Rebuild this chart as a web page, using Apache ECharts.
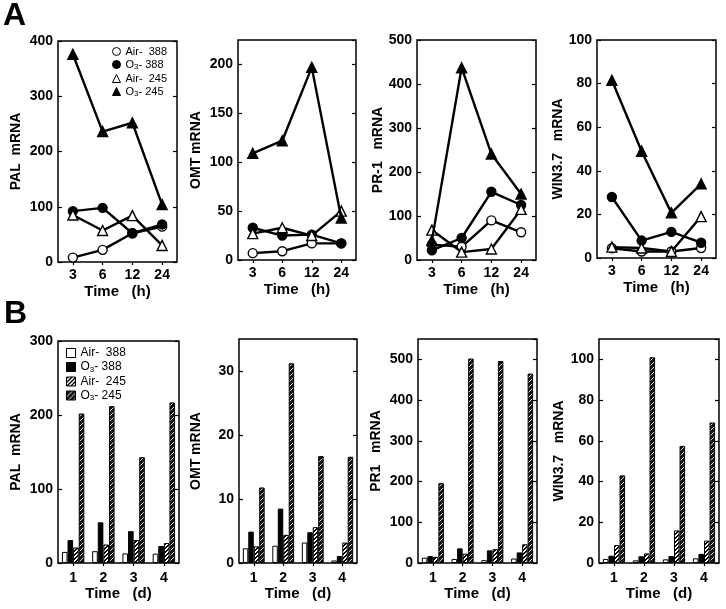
<!DOCTYPE html>
<html><head><meta charset="utf-8">
<script src="https://cdn.jsdelivr.net/npm/echarts@6/dist/echarts.min.js"></script>
<style>html,body{margin:0;padding:0;background:#fff}#c{width:726px;height:609px}</style>
</head><body><div id="c"></div>
<script>
// ---------- DATA ----------
const seriesNames = ['Air-  388', 'O₃- 388', 'Air-  245', 'O₃- 245'];
const hourCats = ['3', '6', '12', '24'];
const dayCats = ['1', '2', '3', '4'];

// Panel A (time in hours) – line charts
const A_PAL_air388 = [8, 22, 52, 64];
const A_PAL_o3388 = [92, 98, 52, 68];
const A_PAL_air245 = [85, 57, 84, 30];
const A_PAL_o3245 = [376, 236, 252, 104];

const A_OMT_air388 = [7, 9, 17, 17];
const A_OMT_o3388 = [33, 25, 26, 17];
const A_OMT_air245 = [27, 33, 25, 50];
const A_OMT_o3245 = [109, 122, 197, 43];

const A_PR1_air388 = [35, 30, 90, 63];
const A_PR1_o3388 = [22, 50, 155, 125];
const A_PR1_air245 = [68, 18, 25, 115];
const A_PR1_o3245 = [44, 437, 241, 150];

const A_WIN_air388 = [4.5, 3, 3, 4.6];
const A_WIN_o3388 = [28, 8, 12, 7];
const A_WIN_air245 = [5, 4.6, 3, 19];
const A_WIN_o3245 = [81.5, 49, 20.7, 34];

// Panel B (time in days) – bar charts
const B_PAL_air388 = [15, 16, 13, 12.6];
const B_PAL_o3388 = [31, 55, 43, 23];
const B_PAL_air245 = [21, 25, 31, 27];
const B_PAL_o3245 = [202, 212, 143, 217];

const B_OMT_air388 = [2.3, 2.7, 3.2, 0.4];
const B_OMT_o3388 = [4.9, 8.5, 4.8, 1.1];
const B_OMT_air245 = [2.6, 4.4, 5.6, 3.2];
const B_OMT_o3245 = [11.8, 31.2, 16.7, 16.6];

const B_PR1_air388 = [13, 10, 7, 11];
const B_PR1_o3388 = [17, 36, 31, 26];
const B_PR1_air245 = [15, 23, 34, 46];
const B_PR1_o3245 = [196, 502, 496, 465];

const B_WIN_air388 = [2, 1.3, 1.8, 2.3];
const B_WIN_o3388 = [3.6, 3.3, 3.4, 4.5];
const B_WIN_air245 = [8.8, 4.7, 16, 11];
const B_WIN_o3245 = [43, 101, 57.5, 69];

// Axis ranges
const A_yMax = [400, 225, 500, 100];
const A_yStep = [100, 50, 100, 20];
const B_yMax = [300, 35, 550, 110];
const B_yStep = [100, 10, 100, 20];
const A_yNames = ['PAL  mRNA', 'OMT mRNA', 'PR-1   mRNA', 'WIN3.7   mRNA'];
const B_yNames = ['PAL  mRNA', 'OMT mRNA', 'PR1   mRNA', 'WIN3.7   mRNA'];
const A_xName = 'Time   (h)';
const B_xName = 'Time   (d)';

// ---------- LAYOUT / STYLE ----------
const FONT = 'Liberation Sans';
const gridsA = [[58, 41, 119, 221], [238, 40, 118, 220], [417, 40, 119, 220], [597, 40, 119, 218]];
const gridsB = [[58, 341, 121, 222], [239, 339, 118, 224], [418, 339, 119, 224], [599, 339, 120, 224]];
const nameGapA = [35, 35, 32, 31];
const nameGapB = [35, 36, 35, 33];

function stripes(bg, fg, period, w) {
  const c = document.createElement('canvas');
  c.width = c.height = period;
  const ctx = c.getContext('2d');
  ctx.fillStyle = bg; ctx.fillRect(0, 0, period, period);
  ctx.fillStyle = fg;
  for (let y = 0; y < period; y++) for (let x = 0; x < period; x++) {
    if (((x + y) % period) < w) ctx.fillRect(x, y, 1, 1);
  }
  return { image: c, repeat: 'repeat' };
}
const patHatch = stripes('#ffffff', '#000000', 4, 2);
const patDark = stripes('#151515', '#d8d8d8', 5, 1);

const lineStyles = [
  { symbol: 'circle', size: 9, fill: '#fff' },
  { symbol: 'circle', size: 9, fill: '#000' },
  { symbol: 'triangle', size: 10, fill: '#fff' },
  { symbol: 'triangle', size: 10, fill: '#000' }
];
const barFills = ['#ffffff', '#000000', patHatch, patDark];

const A_data = [
  [A_PAL_air388, A_PAL_o3388, A_PAL_air245, A_PAL_o3245],
  [A_OMT_air388, A_OMT_o3388, A_OMT_air245, A_OMT_o3245],
  [A_PR1_air388, A_PR1_o3388, A_PR1_air245, A_PR1_o3245],
  [A_WIN_air388, A_WIN_o3388, A_WIN_air245, A_WIN_o3245]
];
const B_data = [
  [B_PAL_air388, B_PAL_o3388, B_PAL_air245, B_PAL_o3245],
  [B_OMT_air388, B_OMT_o3388, B_OMT_air245, B_OMT_o3245],
  [B_PR1_air388, B_PR1_o3388, B_PR1_air245, B_PR1_o3245],
  [B_WIN_air388, B_WIN_o3388, B_WIN_air245, B_WIN_o3245]
];

const grid = [], xAxis = [], yAxis = [], series = [];
function addPanel(g, cats, yMax, yStep, yName, nameGap, xName, xNameGap, labelMargin) {
  const gi = grid.length;
  grid.push({ left: g[0], top: g[1], width: g[2], height: g[3], show: true,
    borderColor: '#000', borderWidth: 1.5, backgroundColor: 'transparent' });
  xAxis.push({ type: 'category', gridIndex: gi, data: cats, boundaryGap: true,
    axisLine: { show: false },
    axisTick: { show: true, alignWithLabel: true, length: 3, lineStyle: { color: '#000', width: 1.2 } },
    axisLabel: { margin: labelMargin, color: '#000', fontFamily: FONT, fontWeight: 'bold', fontSize: 14 },
    name: xName, nameLocation: 'middle', nameGap: xNameGap,
    nameTextStyle: { color: '#000', fontFamily: FONT, fontWeight: 'bold', fontSize: 15 } });
  const showMax = (yMax % yStep) === 0;
  yAxis.push({ type: 'value', gridIndex: gi, min: 0, max: yMax, interval: yStep,
    axisLine: { show: false }, splitLine: { show: false },
    axisTick: { show: true, inside: true, length: 4, lineStyle: { color: '#000', width: 1.2 } },
    axisLabel: { margin: 5, color: '#000', fontFamily: FONT, fontWeight: 'bold', fontSize: 14, showMaxLabel: showMax },
    name: yName, nameLocation: 'middle', nameGap: nameGap, nameRotate: 90,
    nameTextStyle: { color: '#000', fontFamily: FONT, fontWeight: 'bold', fontSize: 14 } });
  yAxis.push({ type: 'value', gridIndex: gi, position: 'right', min: 0, max: yMax, interval: yStep,
    axisLine: { show: false }, splitLine: { show: false },
    axisTick: { show: true, inside: true, length: 4, lineStyle: { color: '#000', width: 1.2 } },
    axisLabel: { show: false } });
  return gi;
}

for (let p = 0; p < 4; p++) {
  const gi = addPanel(gridsA[p], hourCats, A_yMax[p], A_yStep[p], A_yNames[p], nameGapA[p], A_xName, 22, 6);
  for (let s = 0; s < 4; s++) {
    const st = lineStyles[s];
    series.push({ type: 'line', name: seriesNames[s], xAxisIndex: gi, yAxisIndex: gi * 2,
      data: A_data[p][s], symbol: st.symbol, symbolSize: st.size, showSymbol: true,
      lineStyle: { color: '#000', width: 2.4 },
      itemStyle: { color: st.fill, borderColor: '#000', borderWidth: 1.4 },
      z: 2 + s });
  }
}
for (let p = 0; p < 4; p++) {
  const gi = addPanel(gridsB[p], dayCats, B_yMax[p], B_yStep[p], B_yNames[p], nameGapB[p], B_xName, 14, 8);
  for (let s = 0; s < 4; s++) {
    series.push({ type: 'bar', name: 'B·' + seriesNames[s], xAxisIndex: gi, yAxisIndex: gi * 2,
      data: B_data[p][s], barGap: '0%', barCategoryGap: '26%',
      itemStyle: { color: barFills[s], borderColor: '#000', borderWidth: 1 } });
  }
}

const richSub = { s: { fontSize: 8, fontFamily: FONT, color: '#000', padding: [5, 0, 0, 0] } };
const option = {
  animation: false,
  backgroundColor: '#fff',
  title: [
    { text: 'A', left: 3, top: 0, padding: 0, textStyle: { fontSize: 32, fontWeight: 'bold', fontFamily: FONT, color: '#000' } },
    { text: 'B', left: 4, top: 298, padding: 0, textStyle: { fontSize: 32, fontWeight: 'bold', fontFamily: FONT, color: '#000' } }
  ],
  legend: [
    { orient: 'vertical', left: 112, top: 46, itemWidth: 8, itemHeight: 8, itemGap: 2, selectedMode: false, padding: 0,
      textStyle: { fontSize: 11, fontFamily: FONT, color: '#000', lineHeight: 10, rich: richSub },
      formatter: n => n.replace('₃', '{s|3}'),
      data: [
        { name: seriesNames[0], icon: 'circle', itemStyle: { color: '#fff', borderColor: '#000', borderWidth: 1 } },
        { name: seriesNames[1], icon: 'circle', itemStyle: { color: '#000', borderColor: '#000', borderWidth: 1 } },
        { name: seriesNames[2], icon: 'triangle', itemStyle: { color: '#fff', borderColor: '#000', borderWidth: 1 } },
        { name: seriesNames[3], icon: 'triangle', itemStyle: { color: '#000', borderColor: '#000', borderWidth: 1 } }
      ] },
    { orient: 'vertical', left: 66, top: 347, itemWidth: 9, itemHeight: 9, itemGap: 2, selectedMode: false, padding: 0,
      textStyle: { fontSize: 12, fontFamily: FONT, color: '#000', lineHeight: 9, rich: richSub },
      formatter: n => n.replace('B·', '').replace('₃', '{s|3}'),
      data: seriesNames.map((n, i) => ({ name: 'B·' + n, icon: 'rect',
        itemStyle: { color: barFills[i], borderColor: '#000', borderWidth: 1 } })) }
  ],
  grid, xAxis, yAxis, series
};
const chart = echarts.init(document.getElementById('c'), null, { renderer: 'canvas' });
chart.setOption(option);
</script></body></html>
